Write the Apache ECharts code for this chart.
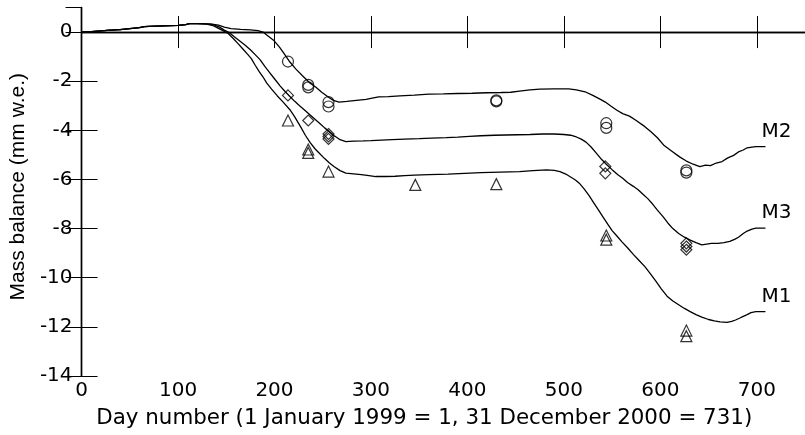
<!DOCTYPE html>
<html>
<head>
<meta charset="utf-8">
<script src="https://cdn.jsdelivr.net/npm/echarts@6/dist/echarts.min.js"></script>
<style>
html,body{margin:0;padding:0;background:#fff;}
#chart{width:805px;height:435px;}
</style>
</head>
<body>
<div id="chart"></div>
<script>
// Modelled mass balance curves [day, mm w.e.]
var startSeg = [[0,0],[10,0.02],[20,0.05],[30,0.08],[40,0.1],[50,0.14],[60,0.18],[65,0.22],[70,0.23],[85,0.25],[100,0.27],[108,0.3],[112,0.34],[120,0.34],[128,0.33]];
var m2Line = [[135,0.32],[142,0.28],[148,0.2],[155,0.14],[165,0.11],[175,0.09],[183,0.06],[188,0.0],[193,-0.15],[199,-0.33],[205,-0.6],[210,-0.88],[216,-1.22],[222,-1.5],[229,-1.78],[237,-2.08],[243,-2.25],[249,-2.45],[255,-2.62],[261,-2.78],[267,-2.85],[275,-2.82],[285,-2.78],[295,-2.74],[300,-2.7],[308,-2.64],[318,-2.63],[330,-2.6],[345,-2.57],[360,-2.53],[375,-2.52],[390,-2.5],[405,-2.49],[420,-2.47],[435,-2.46],[445,-2.45],[454,-2.4],[465,-2.35],[475,-2.32],[490,-2.31],[505,-2.31],[513,-2.35],[522,-2.43],[530,-2.58],[537,-2.72],[543,-2.85],[549,-3.02],[555,-3.18],[561,-3.32],[568,-3.42],[575,-3.6],[584,-3.85],[590,-4.05],[597,-4.3],[604,-4.62],[612,-4.85],[620,-5.08],[627,-5.25],[634,-5.38],[641,-5.48],[647,-5.42],[652,-5.44],[658,-5.33],[664,-5.27],[670,-5.12],[676,-5.02],[681,-4.88],[686,-4.8],[690,-4.71],[695,-4.68],[699,-4.66],[709,-4.66]];
var m3Line = [[134,0.32],[138,0.28],[143,0.2],[148,0.08],[153,-0.02],[158,-0.18],[163,-0.33],[169,-0.52],[175,-0.72],[180,-0.92],[185,-1.12],[190,-1.4],[195,-1.65],[200,-1.9],[206,-2.2],[211,-2.42],[216,-2.62],[221,-2.82],[226,-3.0],[232,-3.2],[237,-3.38],[242,-3.55],[247,-3.72],[252,-3.9],[257,-4.06],[262,-4.22],[268,-4.38],[274,-4.46],[282,-4.44],[292,-4.43],[300,-4.42],[311,-4.4],[322,-4.38],[335,-4.36],[350,-4.34],[363,-4.32],[378,-4.3],[390,-4.28],[402,-4.25],[414,-4.22],[428,-4.2],[440,-4.19],[452,-4.18],[465,-4.17],[478,-4.15],[490,-4.15],[500,-4.17],[507,-4.2],[513,-4.27],[518,-4.36],[523,-4.48],[528,-4.67],[533,-4.9],[539,-5.18],[544,-5.38],[550,-5.6],[556,-5.81],[561,-5.95],[566,-6.12],[572,-6.28],[577,-6.42],[582,-6.6],[587,-6.78],[592,-7.0],[597,-7.25],[603,-7.52],[608,-7.78],[613,-8.0],[619,-8.2],[625,-8.35],[631,-8.47],[637,-8.57],[643,-8.66],[648,-8.63],[653,-8.6],[660,-8.6],[666,-8.57],[672,-8.52],[677,-8.44],[681,-8.35],[686,-8.2],[690,-8.1],[695,-8.02],[699,-7.98],[709,-7.98]];
var m1Line = [[132,0.3],[137,0.25],[142,0.15],[147,0.05],[152,-0.06],[157,-0.25],[162,-0.46],[167,-0.68],[172,-0.9],[176,-1.08],[180,-1.35],[184,-1.6],[188,-1.82],[192,-2.08],[197,-2.32],[203,-2.6],[209,-2.85],[216,-3.16],[221,-3.45],[227,-3.85],[232,-4.2],[237,-4.5],[242,-4.75],[247,-4.95],[252,-5.15],[257,-5.33],[262,-5.48],[268,-5.64],[274,-5.74],[282,-5.77],[290,-5.8],[298,-5.84],[305,-5.88],[315,-5.88],[325,-5.87],[335,-5.84],[345,-5.82],[360,-5.8],[380,-5.78],[397,-5.75],[414,-5.72],[434,-5.7],[454,-5.68],[468,-5.64],[482,-5.61],[490,-5.63],[496,-5.68],[502,-5.78],[507,-5.9],[512,-6.02],[516,-6.15],[521,-6.38],[526,-6.65],[531,-6.95],[536,-7.25],[541,-7.55],[546,-7.85],[550,-8.08],[555,-8.3],[560,-8.53],[566,-8.78],[572,-9.05],[578,-9.3],[584,-9.55],[590,-9.85],[595,-10.12],[601,-10.45],[607,-10.75],[613,-10.95],[619,-11.1],[625,-11.25],[631,-11.38],[637,-11.5],[643,-11.6],[650,-11.7],[656,-11.76],[662,-11.8],[669,-11.82],[674,-11.78],[678,-11.72],[682,-11.65],[686,-11.57],[690,-11.5],[694,-11.42],[699,-11.38],[709,-11.38]];

// Observations [day, mm w.e.]
var obsM2 = [[214,-1.2],[235,-2.15],[235,-2.25],[256,-2.85],[256,-3.03],[430,-2.78],[430,-2.82],[544,-3.71],[544,-3.9],[627,-5.63],[627,-5.72]];
var obsM3 = [[214,-2.58],[235,-3.6],[256,-4.15],[256,-4.25],[256,-4.35],[543,-5.47],[543,-5.75],[627,-8.6],[627,-8.73],[627,-8.86]];
var obsM1 = [[214,-3.6],[235,-4.78],[235,-4.92],[256,-5.68],[346,-6.22],[430,-6.19],[544,-8.28],[544,-8.45],[627,-12.15],[627,-12.38]];

var lineNames = ['M2','M3','M1'];
var xTitle = 'Day number (1 January 1999 = 1, 31 December 2000 = 731)';
var yTitle = 'Mass balance (mm w.e.)';

var WIDE = 'DejaVu Sans';
var FONT = 'Liberation Sans';
var chart = echarts.init(document.getElementById('chart'), null, {renderer:'canvas'});

function lineSeries(name, pts){
  return {
    type:'line', name:name, data:startSeg.concat(pts), showSymbol:false, symbol:'none',
    lineStyle:{color:'#000', width:1.3}, silent:true, animation:false,
    endLabel:{show:true, formatter:name, color:'#000', fontFamily:WIDE, fontSize:20, offset:[-12,-15]}
  };
}
function obsSeries(sym, pts, size){
  return {
    type:'scatter', data:pts, symbol:sym, symbolSize:size, animation:false, silent:true,
    itemStyle:{color:'rgba(0,0,0,0)', borderColor:'#000', borderWidth:1.2}
  };
}
var axisLine = {show:true, lineStyle:{color:'#000', width:1.4}};
var tick = {show:true, inside:true, length:16, lineStyle:{color:'#000', width:1}};

chart.setOption({
  backgroundColor:'#fff',
  animation:false,
  grid:{left:75, right:-5, top:7.5, bottom:59, containLabel:false},
  xAxis:[
    {type:'value', position:'bottom', min:0, max:750, interval:100,
     axisLine:axisLine, axisTick:tick, splitLine:{show:false},
     axisLabel:{color:'#000', fontFamily:WIDE, fontSize:20, margin:5, showMaxLabel:false},
     name:xTitle, nameLocation:'middle', nameGap:32,
     nameTextStyle:{color:'#000', fontFamily:WIDE, fontSize:21.4, padding:[0,38,0,0]}},
    {type:'value', position:'top', min:0, max:750, interval:100,
     axisLine:axisLine, axisTick:tick, splitLine:{show:false}, axisLabel:{show:false}}
  ],
  yAxis:[
    {type:'value', position:'left', min:-14, max:1, interval:2,
     axisLine:axisLine, axisTick:tick, splitLine:{show:false},
     axisLabel:{color:'#000', fontFamily:WIDE, fontSize:20, margin:9, showMaxLabel:false},
     name:yTitle, nameLocation:'middle', nameGap:42,
     nameTextStyle:{color:'#000', fontFamily:FONT, fontSize:21, padding:[0,0,0,10]}},
    {type:'value', position:'right', min:-14, max:1, interval:2,
     axisLine:axisLine, axisTick:tick, splitLine:{show:false}, axisLabel:{show:false}}
  ],
  series:[
    lineSeries(lineNames[0], m2Line),
    lineSeries(lineNames[1], m3Line),
    lineSeries(lineNames[2], m1Line),
    obsSeries('circle', obsM2, 11),
    obsSeries('diamond', obsM3, 11),
    obsSeries('triangle', obsM1, 11)
  ]
});
</script>
</body>
</html>
